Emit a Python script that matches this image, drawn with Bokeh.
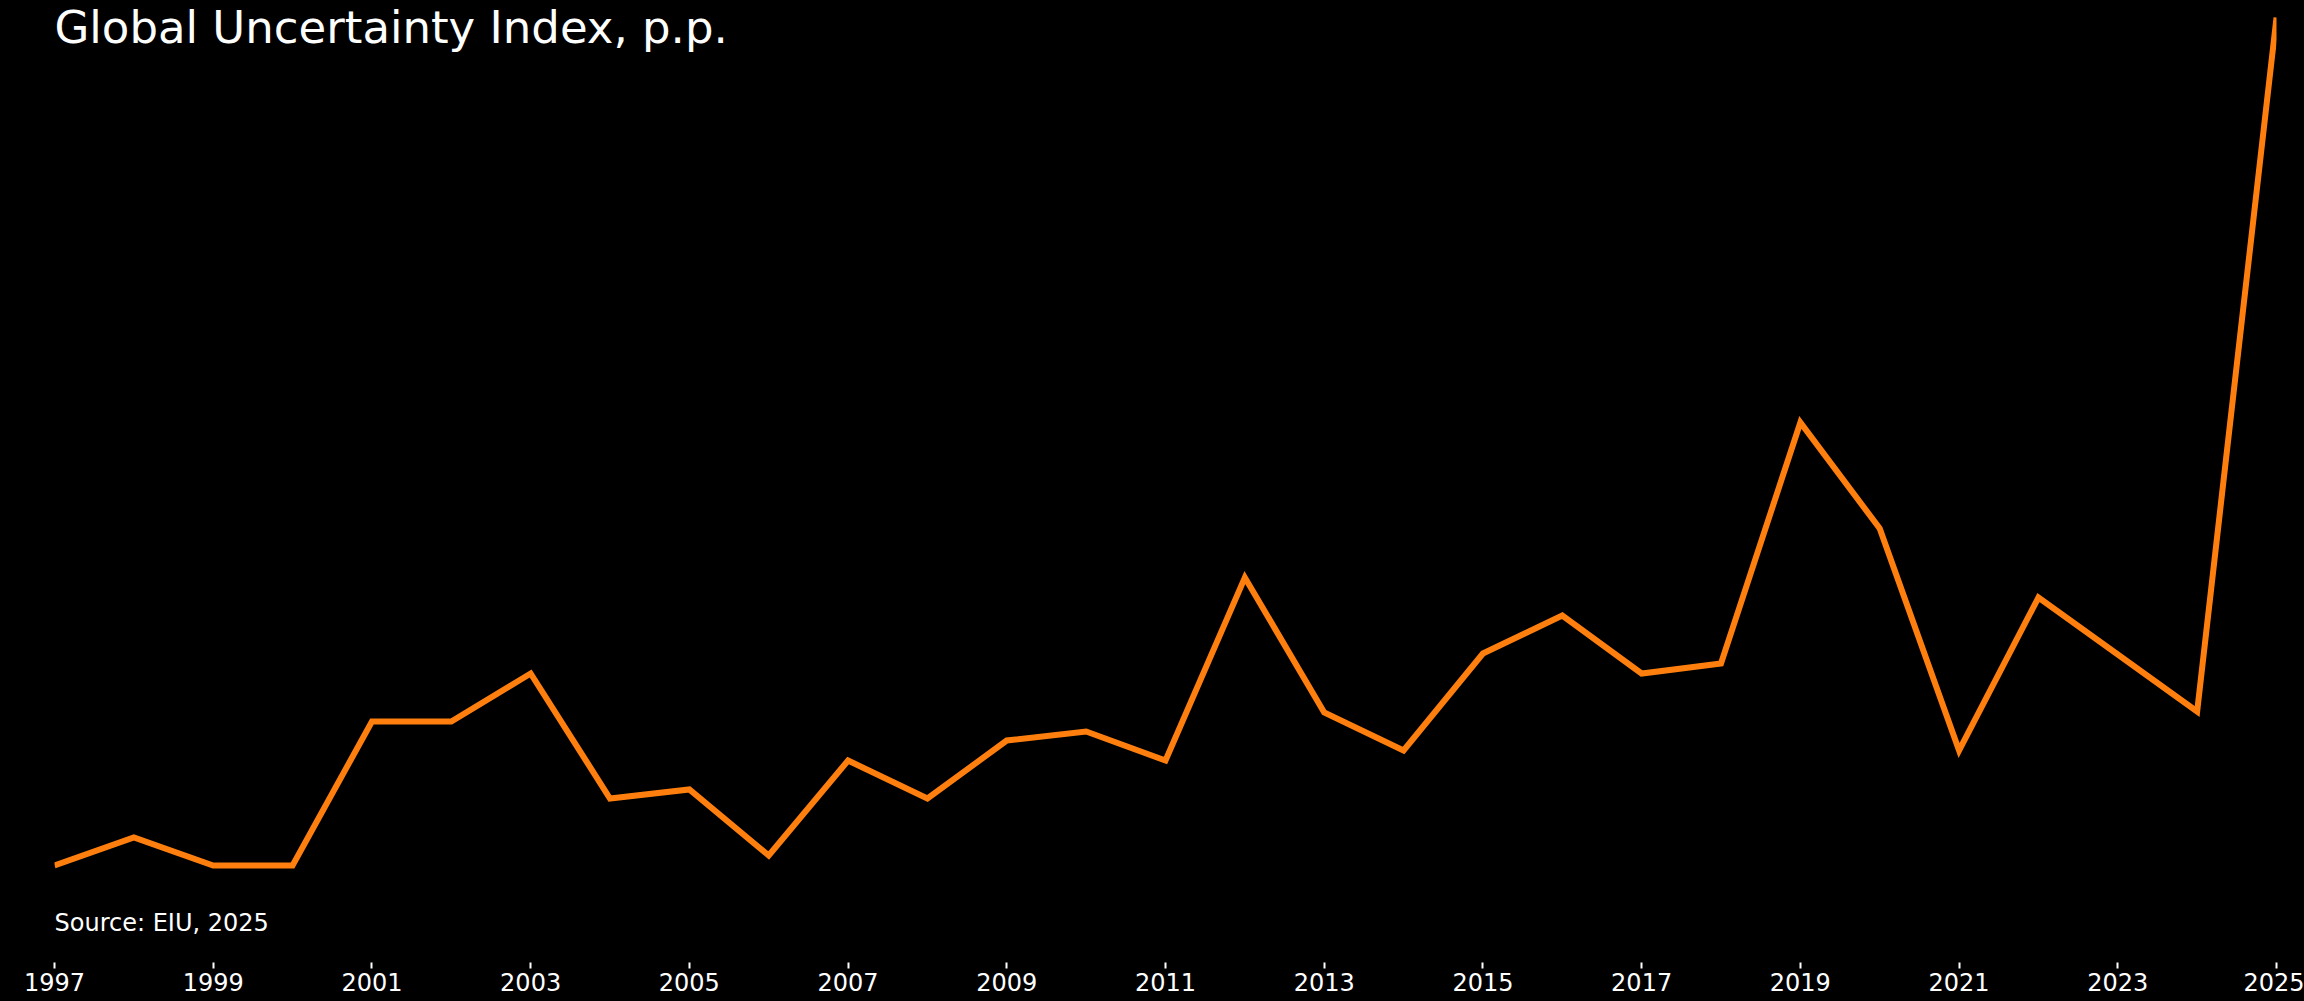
from bokeh.plotting import figure
from bokeh.models import Range1d, FixedTicker, Label, GlobalInlineStyleSheet
from bokeh.embed import file_html
from bokeh.resources import INLINE

# Data (arbitrary index units)
years = [1997, 1998, 1999, 2000, 2001, 2002, 2003, 2004, 2005, 2006,
         2007, 2008, 2009, 2010, 2011, 2012, 2013, 2014, 2015, 2016,
         2017, 2018, 2019, 2020, 2021, 2022, 2023, 2024, 2025]
uncertainty = [9.7, 12.5, 9.7, 9.7, 24.1, 24.1, 28.9, 16.4, 17.3, 10.7,
               20.2, 16.4, 22.2, 23.1, 20.2, 38.5, 25.0, 21.2, 30.9, 34.7,
               28.9, 29.9, 54.0, 43.4, 21.2, 36.5, 30.8, 25.1, 94.5]
tick_years = [1997, 1999, 2001, 2003, 2005, 2007, 2009, 2011, 2013,
              2015, 2017, 2019, 2021, 2023, 2025]
title_text = "Global Uncertainty Index, p.p."
source_text = "Source: EIU, 2025"

FONT = "DejaVu Sans"

p = figure(width=2304, height=1001, output_backend="svg", toolbar_location=None,
           x_range=Range1d(1997, 2025), y_range=Range1d(0, 96.2),
           min_border_left=54, min_border_right=28, min_border_top=0,
           min_border_bottom=39)
p.background_fill_color = "black"
p.border_fill_color = "black"
p.outline_line_color = None
p.xgrid.visible = False
p.ygrid.visible = False
p.yaxis.visible = False

ax = p.xaxis[0]
ax.ticker = FixedTicker(ticks=tick_years)
ax.axis_line_color = None
ax.major_tick_line_color = "white"
ax.major_tick_line_width = 2
ax.major_tick_in = 0
ax.major_tick_out = 6
ax.minor_tick_line_color = None
ax.major_label_text_color = "white"
ax.major_label_text_font = FONT
ax.major_label_text_font_size = "24px"
ax.major_label_standoff = 4

p.line(years, uncertainty, line_color="#ff7f0e", line_width=6,
       line_join="miter", line_cap="butt")

p.add_layout(Label(x=1997, y=93.5, text=title_text, text_color="white",
                   text_font=FONT, text_font_size="45px",
                   text_align="left", text_baseline="alphabetic"))
p.add_layout(Label(x=1997, y=4.0, text=source_text, text_color="white",
                   text_font=FONT, text_font_size="24px",
                   text_align="left", text_baseline="alphabetic"))

p.stylesheets = [GlobalInlineStyleSheet(css="html, body { background: #000000; }")]

open("out.html", "w").write(file_html(p, INLINE))
